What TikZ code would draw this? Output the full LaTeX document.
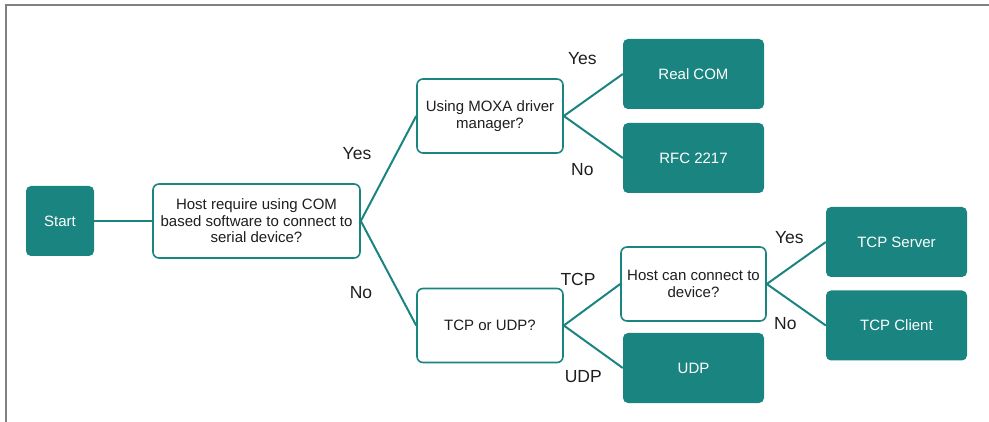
\documentclass[tikz,border=0pt]{standalone}
\usepackage{fontspec}
\setmainfont{Liberation Sans}
\usetikzlibrary{positioning}
\definecolor{moxateal}{RGB}{26,133,128}
\definecolor{framegray}{RGB}{128,128,128}
\definecolor{inkgray}{RGB}{30,30,30}

\begin{document}
\begin{tikzpicture}[
    x=1pt, y=-1pt,
    question/.style={rectangle, draw=moxateal, line width=1.6pt, fill=white, text=inkgray, rounded corners=6pt, minimum width=146pt, minimum height=74pt, inner sep=2pt, align=center, font=\fontsize{15}{16.5}\selectfont},
    result/.style={rectangle, fill=moxateal, text=white, rounded corners=5pt, minimum width=141pt, minimum height=70pt, align=center, font=\fontsize{15}{16.5}\selectfont},
    link/.style={draw=moxateal, line width=2pt},
    answer/.style={font=\fontsize{17.5}{20}\selectfont, text=inkgray}
  ]
  \useasboundingbox (0,0) rectangle (989,422);
  \draw[framegray, line width=1.5pt] (6,422) -- (6,5) -- (989,5);

  \node[result, minimum width=68pt] (start) at (60, 221) {Start};
  \node[question, minimum width=207pt] (hostcom) at (256.5, 221) {Host require using COM\\based software to connect to\\serial device?};
  \node[question] (driver) at (490, 116) {Using MOXA driver\\manager?};
  \node[question] (proto) at (490, 325.5) {TCP or UDP?};
  \node[result] (realcom) at (693.5, 74) {Real COM};
  \node[result] (rfc) at (693.5, 158) {RFC 2217};
  \node[question, minimum width=145pt] (reach) at (693.5, 284) {Host can connect to\\device?};
  \node[result] (udp) at (693.5, 368) {UDP};
  \node[result] (server) at (896.5, 242) {TCP Server};
  \node[result] (client) at (896.5, 325.5) {TCP Client};

  \draw[link] (start) -- (hostcom);
  \draw[link] (hostcom.east) -- node[answer, xshift=-31.5pt, yshift=14.5pt] {Yes} (driver.west);
  \draw[link] (hostcom.east) -- node[answer, xshift=-27.5pt, yshift=-19pt] {No} (proto.west);
  \draw[link] (driver.east) -- node[answer, xshift=-11pt, yshift=36pt] {Yes} (realcom.west);
  \draw[link] (driver.east) -- node[answer, xshift=-11pt, yshift=-33pt] {No} (rfc.west);
  \draw[link] (proto.east) -- node[answer, xshift=-14pt, yshift=25.5pt] {TCP} (reach.west);
  \draw[link] (proto.east) -- node[answer, xshift=-10pt, yshift=-29.5pt] {UDP} (udp.west);
  \draw[link] (reach.east) -- node[answer, xshift=-7pt, yshift=25pt] {Yes} (server.west);
  \draw[link] (reach.east) -- node[answer, xshift=-11pt, yshift=-18.5pt] {No} (client.west);

\end{tikzpicture}
\end{document}
